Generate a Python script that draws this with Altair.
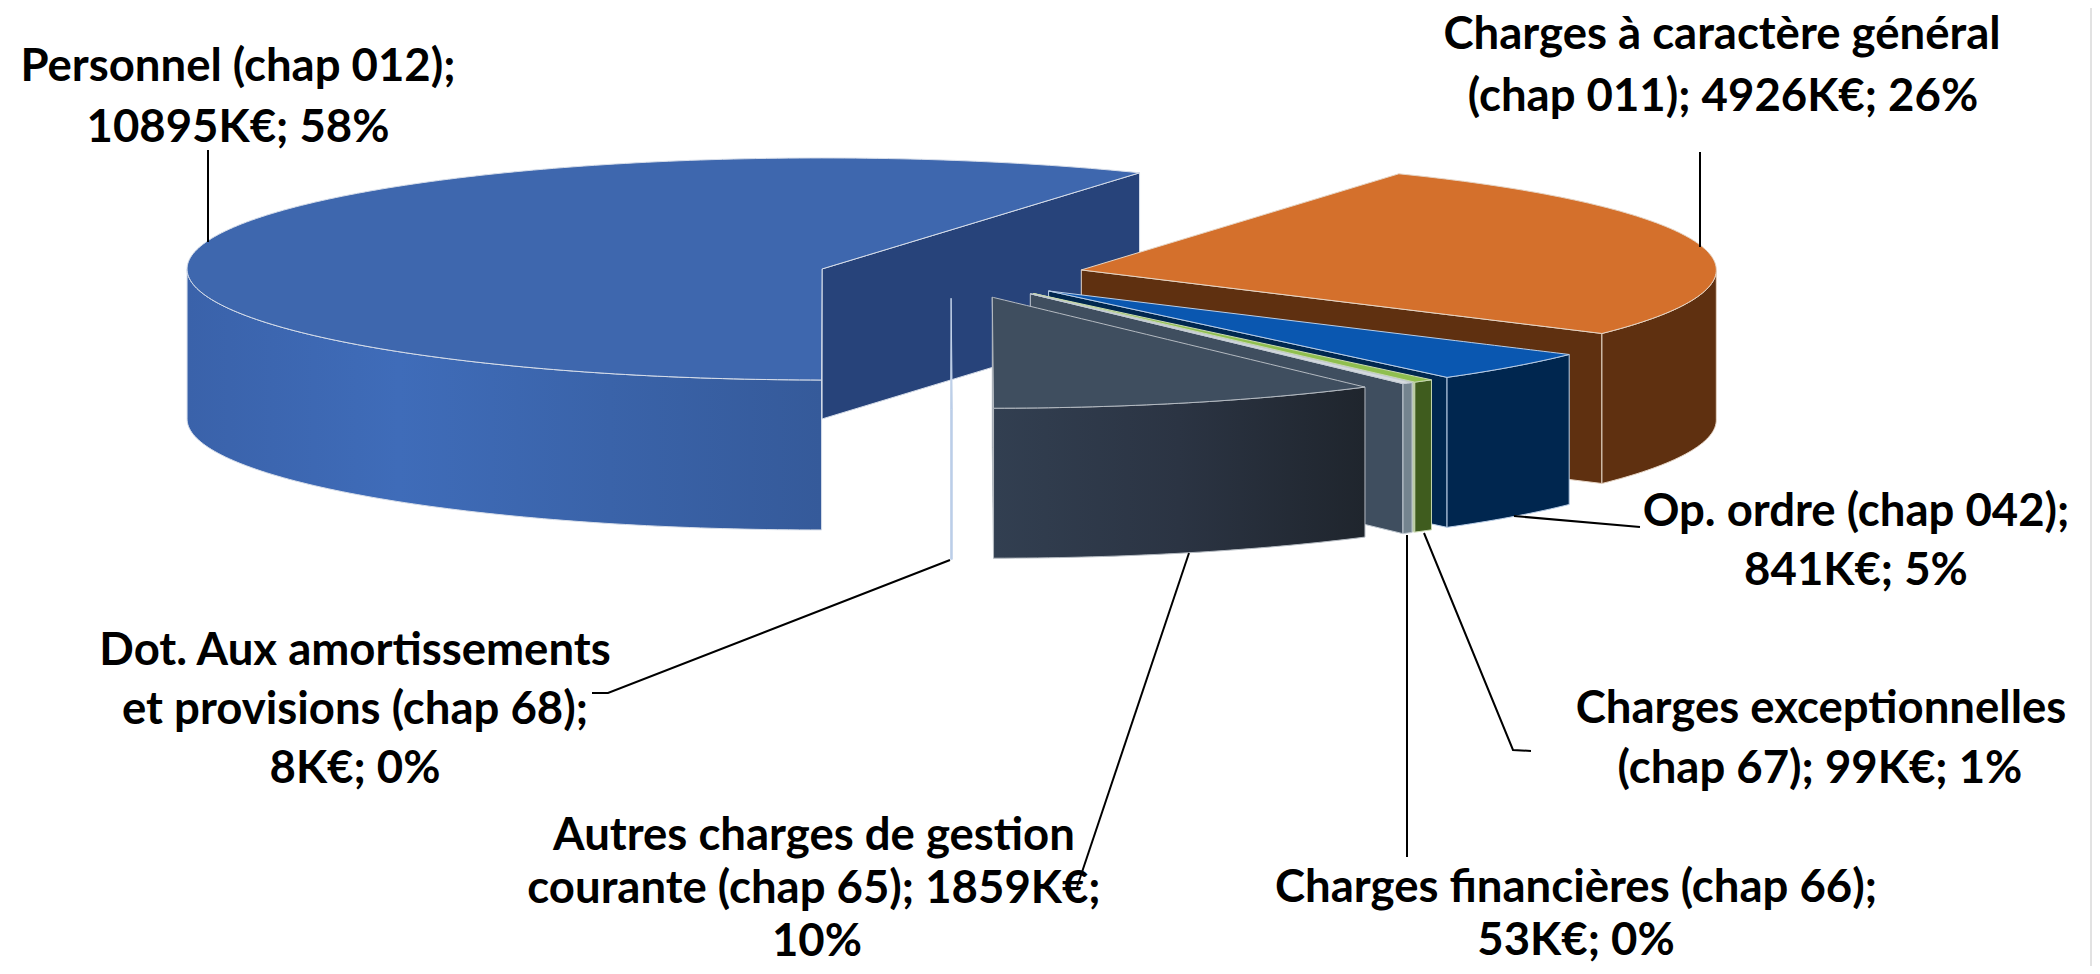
import math
import altair as alt
import pandas as pd

# ---- chart values ----
categories = ["Charges à caractère général (chap 011)", "Op. ordre (chap 042)",
              "Charges exceptionnelles (chap 67)", "Charges financières (chap 66)",
              "Autres charges de gestion courante (chap 65)",
              "Dot. Aux amortissements et provisions (chap 68)", "Personnel (chap 012)"]
values = [4926, 841, 99, 53, 1859, 8, 10895]

label_lines = ["Charges à caractère général", "(chap 011); 4926K€; 26%",
               "Personnel (chap 012);", "10895K€; 58%",
               "Op. ordre (chap 042);", "841K€; 5%",
               "Charges exceptionnelles", "(chap 67); 99K€; 1%",
               "Charges financières (chap 66);", "53K€; 0%",
               "Autres charges de gestion", "courante (chap 65); 1859K€;", "10%",
               "Dot. Aux amortissements", "et provisions (chap 68);", "8K€; 0%"]
label_x = [1722, 1723, 238, 238, 1856, 1856, 1821, 1820, 1576, 1576, 814, 814, 817, 355, 355, 355]
label_y = [35, 97, 67, 128, 512, 571, 709, 769, 888, 941, 836, 889, 942, 651, 710, 769]

leaders = [[(208, 150), (208, 242)], [(1700, 152), (1700, 247)],
           [(1514, 516), (1640, 527)], [(1424, 533), (1513, 750), (1531, 751)],
           [(1407, 535), (1407, 857)], [(1189, 553), (1077, 887)],
           [(950, 560), (608, 693), (592, 693)]]

# ---- styles per slice: top, cut wall, outer wall (list of gradient stops), edge ----
styles = [
    dict(top="#D4702C", cut="#5F3010", outer=["#5F3010"], edge="#E6D5C5"),
    dict(top="#0A57B0", cut="#00274F", outer=["#00264F"], edge="#B9CDE6"),
    dict(top="#8FBF4F", cut="#B9CBA6", outer=["#3F5C1E"], edge="#C8D8B0"),
    dict(top="#D5DADF", cut="#3F4E5F", outer=["#74848F"], edge="#C3CBD3"),
    dict(top="#3F4E5F", cut="#3F4E5F", outer=["#323F51", "#2B3443", "#1F252D"], edge="#B4BAC1"),
    dict(top="#B8CCE8", cut="#B8CCE8", outer=["#B8CCE8"], edge="#C4D4EA"),
    dict(top="#3E67AE", cut="#27437A", outer=["#3A62AA", "#3F6CB9", "#3A63A9", "#355A9A"], edge="#D7DEEA"),
]

# ---- projection of the 3-D pie ----
START, CX, CY, RX, RY, DEPTH, EXPLODE = 30.0, 951.0, 275.0, 635.0, 111.0, 150.0, 133.5


def rad(a):
    return math.radians(a)


def centre(mid):
    return (CX + EXPLODE * math.sin(rad(mid)), CY - EXPLODE * RY / RX * math.cos(rad(mid)))


def rim(c, a):
    return (c[0] + RX * math.sin(rad(a)), c[1] - RY * math.cos(rad(a)))


def angles(a, b, step=1.0):
    n = max(1, int(math.ceil((b - a) / step)))
    return [a + (b - a) * i / n for i in range(n + 1)]


def top_rows(c, a, b):
    poly = [c] + [rim(c, t) for t in angles(a, b)]
    xs = sorted({round(p[0], 3) for p in poly})
    rows = []
    for x in xs:
        ys = []
        for i in range(len(poly)):
            p, q = poly[i], poly[(i + 1) % len(poly)]
            lo, hi = min(p[0], q[0]), max(p[0], q[0])
            if lo - 1e-3 <= x <= hi + 1e-3:
                if abs(q[0] - p[0]) < 1e-6:
                    ys += [p[1], q[1]]
                else:
                    ys.append(p[1] + (q[1] - p[1]) * (x - p[0]) / (q[0] - p[0]))
        rows.append({"x": x, "y": min(ys), "y2": max(ys)})
    return rows


def wall_rows(pts):
    return [{"x": p[0], "y": p[1], "y2": p[1] + DEPTH} for p in sorted(pts)]


def paint(fill):
    if len(fill) == 1:
        return fill[0]
    stops = [alt.GradientStop(color=col, offset=i / (len(fill) - 1)) for i, col in enumerate(fill)]
    return alt.Gradient(gradient="linear", stops=stops, x1=0, x2=1, y1=0, y2=0)


X = alt.X("x:Q", scale=alt.Scale(domain=[8, 2092]), axis=None)
Y = alt.Y("y:Q", scale=alt.Scale(domain=[966, 8]), axis=None)


def shape(rows, fill, edge):
    return alt.Chart(pd.DataFrame(rows)).mark_area(
        fill=paint(fill), stroke=edge, strokeWidth=1.0, interpolate="linear"
    ).encode(x=X, y=Y, y2="y2:Q")


total = sum(values)
spans, cursor = [], START
for v in values:
    sweep = 360.0 * v / total
    spans.append((cursor, cursor + sweep))
    cursor += sweep

# painter's order: the big back-left slice first, then clockwise round the front
layers = []
for idx in [6, 0, 1, 2, 3, 5, 4]:
    a, b = spans[idx]
    st = styles[idx]
    c = centre((a + b) / 2)
    cut_angle = b if b < 360 else b - 360
    if 0 < cut_angle < 180:
        layers.append(shape(wall_rows([c, rim(c, cut_angle)]), [st["cut"]], st["edge"]))
    lo, hi = max(a, 90.0), min(b, 270.0)
    if hi > lo:
        layers.append(shape(wall_rows([rim(c, t) for t in angles(lo, hi)]), st["outer"], st["edge"]))
    layers.append(shape(top_rows(c, a, b), [st["top"]], st["edge"]))

for i, path in enumerate(leaders):
    df = pd.DataFrame({"x": [p[0] for p in path], "y": [p[1] for p in path], "o": range(len(path))})
    layers.append(alt.Chart(df).mark_line(color="#000000", strokeWidth=2).encode(x=X, y=Y, order="o:Q"))

border = alt.Chart(pd.DataFrame({"x": [2091]})).mark_rule(color="#E2E2E2", size=2).encode(x=X)
layers.append(border)

text_df = pd.DataFrame({"x": label_x, "y": label_y, "t": label_lines})
layers.append(alt.Chart(text_df).mark_text(
    font="Lato", fontWeight="bold", fontSize=45.5, color="#000000", align="center", baseline="middle"
).encode(x=X, y=Y, text="t:N"))

chart = alt.layer(*layers).properties(
    width=2084, height=958, padding=0, background="#FFFFFF",
    autosize=alt.AutoSizeParams(type="none"),
).configure_view(stroke=None)

chart.save("out.html", embed_options={"renderer": "svg", "actions": False})
